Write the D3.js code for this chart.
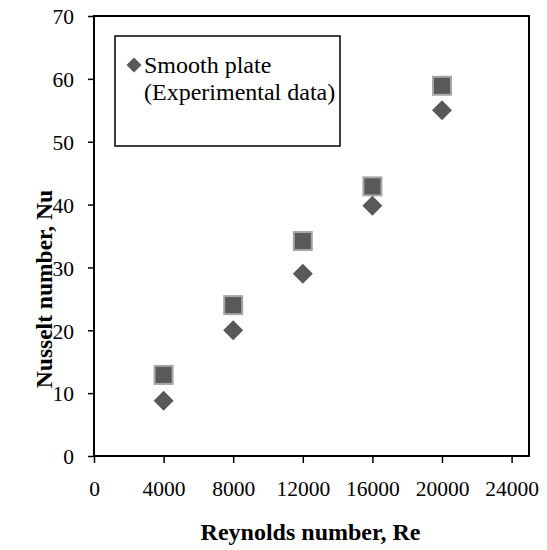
<!DOCTYPE html>
<html>
<head>
<meta charset="utf-8">
<script src="https://cdn.jsdelivr.net/npm/d3@7/dist/d3.min.js"></script>
<style>
  html, body { margin: 0; padding: 0; background: #fff; }
  svg { display: block; }
  svg text { font-family: "Liberation Serif", "Times New Roman", Times, serif !important; fill: #000; }
</style>
</head>
<body>
<svg id="chart" width="547" height="550" font-family="Liberation Serif, Times New Roman, serif"></svg>
<script>
// ---- data ----
const reynolds = [4000, 8000, 12000, 16000, 20000];
const nuSmooth = [8.8, 20, 29, 39.8, 55];          // diamonds (Smooth plate, experimental)
const nuOther = [12.9, 24, 34.2, 42.9, 58.9];       // squares
const xTicks = [0, 4000, 8000, 12000, 16000, 20000, 24000];
const yTicks = [0, 10, 20, 30, 40, 50, 60, 70];
const xTitle = "Reynolds number, Re";
const yTitle = "Nusselt number, Nu";
const legendLines = ["Smooth plate", "(Experimental data)"];

// ---- layout ----
const L = 94, R = 529, T = 16, B = 456;
const svg = d3.select("#chart");
const FONT = "'Liberation Serif', 'Times New Roman', Times, serif";

const x = d3.scaleLinear().domain([0, 25000]).range([L, R]);
const y = d3.scaleLinear().domain([0, 70]).range([B, T]);

// x axis
const gx = svg.append("g").attr("transform", `translate(0,${B})`)
  .call(d3.axisBottom(x).tickValues(xTicks).tickFormat(d3.format("d")).tickSize(7).tickSizeOuter(0))
  .attr("font-family", FONT).attr("font-size", 21.5);
gx.select(".domain").remove();
gx.selectAll(".tick line").attr("stroke", "#000").attr("stroke-width", 1.5);
gx.selectAll(".tick text").attr("y", 40).attr("dy", 0)
  .style("font-family", FONT).style("font-size", "21.5px").attr("fill", "#000");

// y axis
const gy = svg.append("g").attr("transform", `translate(${L},0)`)
  .call(d3.axisLeft(y).tickValues(yTicks).tickSize(6).tickSizeOuter(0))
  .attr("font-family", FONT).attr("font-size", 21.5);
gy.select(".domain").remove();
gy.selectAll(".tick line").attr("stroke", "#000").attr("stroke-width", 1.5);
gy.selectAll(".tick text").attr("x", -20).attr("dy", "0.36em")
  .style("font-family", FONT).style("font-size", "21.5px").attr("fill", "#000");

// frame
svg.append("rect").attr("x", L).attr("y", T).attr("width", R - L).attr("height", B - T)
  .attr("fill", "none").attr("stroke", "#000").attr("stroke-width", 2);

// squares
const sq = 18;
svg.append("g").selectAll("rect").data(reynolds).join("rect")
  .attr("x", (d) => x(d) - sq / 2)
  .attr("y", (d, i) => y(nuOther[i]) - sq / 2)
  .attr("width", sq).attr("height", sq)
  .attr("fill", "#595959").attr("stroke", "#a6a6a6").attr("stroke-width", 2);

// diamonds
const diamond = (s) => `M0,${-s}L${s},0L0,${s}L${-s},0Z`;
svg.append("g").selectAll("path").data(reynolds).join("path")
  .attr("transform", (d, i) => `translate(${x(d)},${y(nuSmooth[i])})`)
  .attr("d", diamond(10))
  .attr("fill", "#595959");

// legend
const lg = svg.append("g");
lg.append("rect").attr("x", 115).attr("y", 36).attr("width", 225).attr("height", 110)
  .attr("fill", "#fff").attr("stroke", "#000").attr("stroke-width", 1.5);
lg.append("path").attr("transform", "translate(134,65)").attr("d", diamond(7.5)).attr("fill", "#595959");
lg.selectAll("text.leg").data(legendLines).join("text").attr("class", "leg")
  .attr("x", 144).attr("y", (d, i) => 73 + i * 27)
  .style("font-family", FONT).style("font-size", "24px").text((d) => d);

// axis titles
svg.append("text").attr("x", (L + R) / 2 - 1).attr("y", 540).attr("text-anchor", "middle")
  .style("font-family", FONT).style("font-size", "24px").style("font-weight", "bold").text(xTitle);
svg.append("text").attr("transform", "translate(52,289) rotate(-90)").attr("text-anchor", "middle")
  .style("font-family", FONT).style("font-size", "23.5px").style("font-weight", "bold").text(yTitle);
</script>
</body>
</html>
